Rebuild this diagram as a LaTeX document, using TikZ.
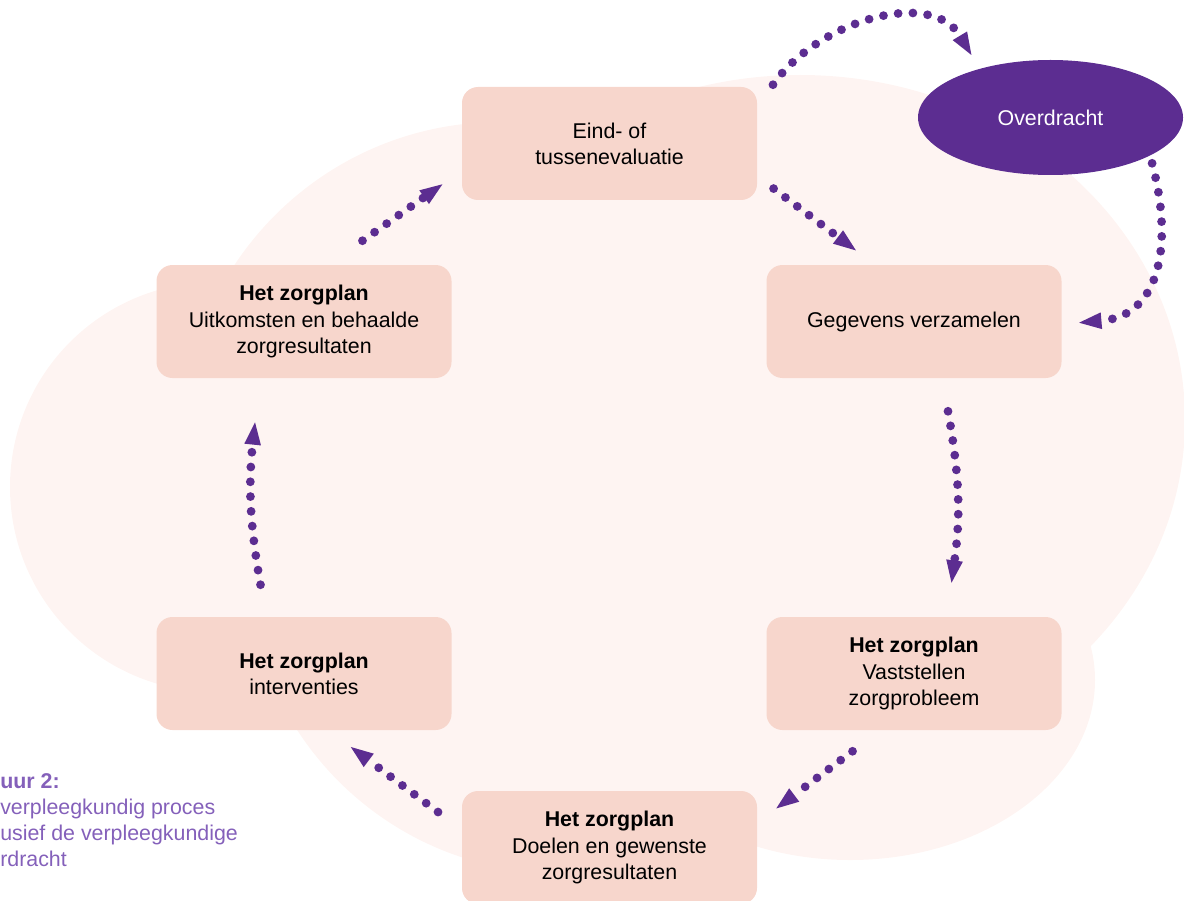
\documentclass[tikz,border=0pt]{standalone}
\usepackage{fontspec}
\setmainfont{Liberation Sans}
\usetikzlibrary{arrows.meta}
\usetikzlibrary{shapes.geometric}

\definecolor{zorgpaars}{HTML}{5C2D91}
\definecolor{vakroze}{HTML}{F7D6CC}
\definecolor{wolkroze}{HTML}{FEF4F2}
\definecolor{bijschrift}{HTML}{8460BA}

\begin{document}
\begin{tikzpicture}[
    font=\fontsize{15.2}{18.6}\selectfont,
    fase/.style={rectangle, rounded corners=0.4cm, fill=vakroze,
        minimum width=7.375cm, minimum height=2.825cm,
        align=center, inner sep=0pt},
    pijl/.style={zorgpaars, line width=0.22cm, line cap=round,
        dash pattern=on 0pt off 0.37cm,
        -{Triangle[length=0.56cm,width=0.42cm,line width=0pt]}}
]
\clip (0,0) rectangle (29.6,-22.525);

% achtergrond (wolk)
\fill[wolkroze] (5.375,-12.175) circle (5.125)
    (12.5,-11) circle (7.95)
    (14,-14) circle (7.825)
    (20,-10.5) ellipse [x radius=9.625, y radius=8.625]
    (21.25,-17) ellipse [x radius=6.125, y radius=4.5];

\node[fase] (eind) at (15.2375,-3.5875) {Eind- of\\tussenevaluatie};
\node[fase] (gegevens) at (22.85,-8.0375) {Gegevens verzamelen};
\node[fase] (vaststellen) at (22.85,-16.8375) {\textbf{Het zorgplan}\\Vaststellen\\zorgprobleem};
\node[fase] (doelen) at (15.2375,-21.1875) {\textbf{Het zorgplan}\\Doelen en gewenste\\zorgresultaten};
\node[fase] (interventies) at (7.6,-16.8375) {\textbf{Het zorgplan}\\interventies};
\node[fase] (uitkomsten) at (7.6,-8.0375) {\textbf{Het zorgplan}\\Uitkomsten en behaalde\\zorgresultaten};
\node[ellipse, fill=zorgpaars, text=white, minimum width=6.625cm,
    minimum height=2.875cm, inner sep=0pt] (overdracht) at (26.2625,-2.9375) {Overdracht};

\node[anchor=west, align=left, text=bijschrift, inner sep=0pt] (onderschrift) at (0,-20.5)
    {\textbf{uur 2:}\\verpleegkundig proces\\usief de verpleegkundige\\rdracht};

% de cyclus
\draw[pijl] ([shift={(0.4075,0.2925)}]eind.south east) -- ([shift={(2.2425,0.3575)}]gegevens.north west);
\draw[pijl] ([shift={(0.85,-0.825)}]gegevens.south) to[bend left=9] ([shift={(0.9375,0.85)}]vaststellen.north);
\draw[pijl] ([shift={(2.1575,-0.525)}]vaststellen.south west) -- ([shift={(0.475,-0.4425)}]doelen.north east);
\draw[pijl] ([shift={(-0.5925,-0.5325)}]doelen.north west) -- ([shift={(-2.525,-0.4175)}]interventies.south east);
\draw[pijl] ([shift={(-1.0875,0.8)}]interventies.north) to[bend left=8] ([shift={(-1.225,-1.1)}]uitkomsten.south);
\draw[pijl] ([shift={(-2.2325,0.6)}]uitkomsten.north east) -- ([shift={(-0.4825,0.4)}]eind.south west);
% via overdracht
\draw[pijl] ([shift={(0.3925,0.05)}]eind.north east) to[out=55, in=121] ([shift={(1.3425,1.5625)}]overdracht.west);
\draw[pijl] ([shift={(-0.78,-1.145)}]overdracht.east) to[out=-75, in=5, looseness=1.2] ([shift={(0.4325,-0.03)}]gegevens.east);
\end{tikzpicture}
\end{document}
